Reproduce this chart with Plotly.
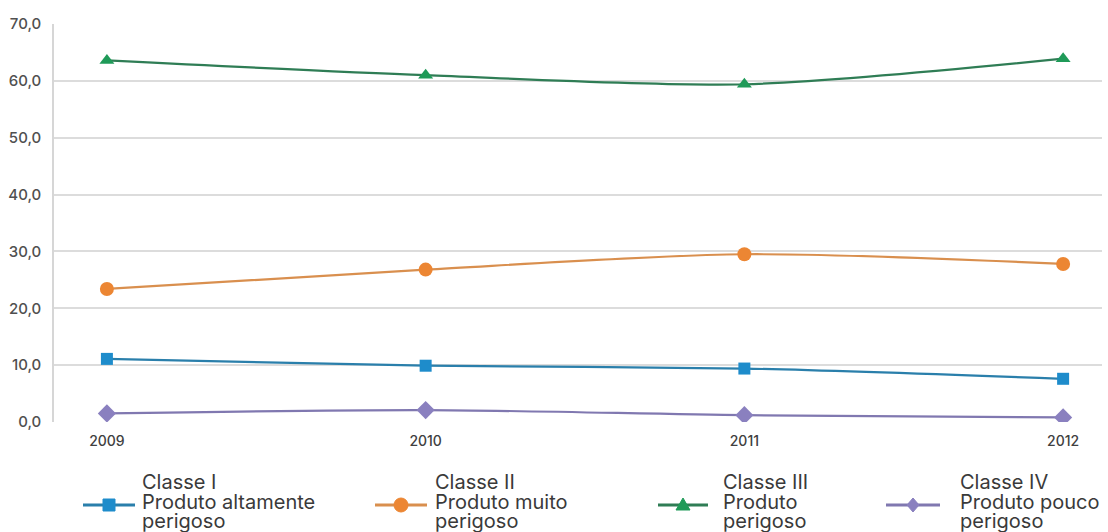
import plotly.graph_objects as go

# Data: share (%) of products by toxicological class per year
years = [2009, 2010, 2011, 2012]
year_labels = ["2009", "2010", "2011", "2012"]
classe_i = [11.1, 9.9, 9.4, 7.6]
classe_ii = [23.4, 26.8, 29.5, 27.8]
classe_iii = [63.6, 61.0, 59.4, 63.9]
classe_iv = [1.5, 2.1, 1.2, 0.8]

y_ticks = [0, 10, 20, 30, 40, 50, 60, 70]

legend_lines = [
    ["Classe I", "Produto altamente", "perigoso"],
    ["Classe II", "Produto muito", "perigoso"],
    ["Classe III", "Produto", "perigoso"],
    ["Classe IV", "Produto pouco", "perigoso"],
]

# Figure geometry
W, H = 1108, 532
ML, MR, MT, MB = 54, 6, 24, 110
PW, PH = W - ML - MR, H - MT - MB

FONT = "Inter"

series = [
    dict(y=classe_i, line="#2a7fab", marker="#1e8ccb", symbol="square", size=12),
    dict(y=classe_ii, line="#d98f4e", marker="#ec8633", symbol="circle", size=14),
    dict(y=classe_iii, line="#2f7d55", marker="#1f9a58", symbol="triangle-up", size=13),
    dict(y=classe_iv, line="#8078b0", marker="#8a80bf", symbol="diamond", size=14),
]

fig = go.Figure()
for s, lines in zip(series, legend_lines):
    fig.add_trace(go.Scatter(
        x=years, y=s["y"], mode="lines+markers",
        name=" ".join(lines),
        line=dict(color=s["line"], width=2.2, shape="spline", smoothing=0.8),
        marker=dict(color=s["marker"], symbol=s["symbol"], size=s["size"]),
        showlegend=False,
    ))


def px_x(p):
    return (p - ML) / PW


def px_y(p):
    return (H - MB - p) / PH


# Hand-built legend: key line + marker, then three text lines per entry
key_spans = [(83, 135), (375, 427), (658, 708), (886, 940)]
text_x = [140, 433, 721, 958]
line_y = [482, 502, 521]
key_y = 505

shapes = []
annotations = []
for s, (k0, k1), tx, lines in zip(series, key_spans, text_x, legend_lines):
    shapes.append(dict(type="line", xref="paper", yref="paper",
                       x0=px_x(k0), x1=px_x(k1), y0=px_y(key_y), y1=px_y(key_y),
                       line=dict(color=s["line"], width=3)))
    cx = px_x((k0 + k1) / 2)
    cy = px_y(key_y)
    base = dict(xref="paper", yref="paper", xsizemode="pixel", ysizemode="pixel",
                xanchor=cx, yanchor=cy, fillcolor=s["marker"],
                line=dict(color=s["marker"], width=1))
    if s["symbol"] == "square":
        shapes.append(dict(type="rect", x0=-6, x1=6, y0=-6, y1=6, **base))
    elif s["symbol"] == "circle":
        shapes.append(dict(type="circle", x0=-7, x1=7, y0=-7, y1=7, **base))
    elif s["symbol"] == "triangle-up":
        shapes.append(dict(type="path", path="M-7,-5 L7,-5 L0,7 Z", **base))
    else:
        shapes.append(dict(type="path", path="M0,-7 L6,0 L0,7 L-6,0 Z", **base))
    for txt, ly in zip(lines, line_y):
        annotations.append(dict(
            text=txt, xref="paper", yref="paper", x=px_x(tx), y=px_y(ly),
            xanchor="left", yanchor="middle", showarrow=False,
            font=dict(family=FONT, size=20, color="#3a3a3a"),
        ))

fig.update_layout(
    width=W, height=H,
    margin=dict(l=ML, r=MR, t=MT, b=MB),
    paper_bgcolor="white", plot_bgcolor="white",
    separators=",.",
    font=dict(family=FONT, color="#444"),
    shapes=shapes, annotations=annotations,
    xaxis=dict(
        range=[2008.834, 2012.122], tickvals=years, ticktext=year_labels,
        showgrid=False, zeroline=False, showline=False, ticks="",
        tickfont=dict(family=FONT, size=14, color="#404040", weight=500),
        ticklabelstandoff=9,
    ),
    yaxis=dict(
        range=[0, 70], tickvals=y_ticks, tickformat=".1f",
        showgrid=True, gridcolor="#dcdcdc", gridwidth=1.5,
        zeroline=False, showline=True, linecolor="#d6d6d6", linewidth=1.5,
        ticks="", tickfont=dict(family=FONT, size=15, color="#505050", weight=500),
        ticklabelstandoff=8,
    ),
)

fig.write_html("out.html")
